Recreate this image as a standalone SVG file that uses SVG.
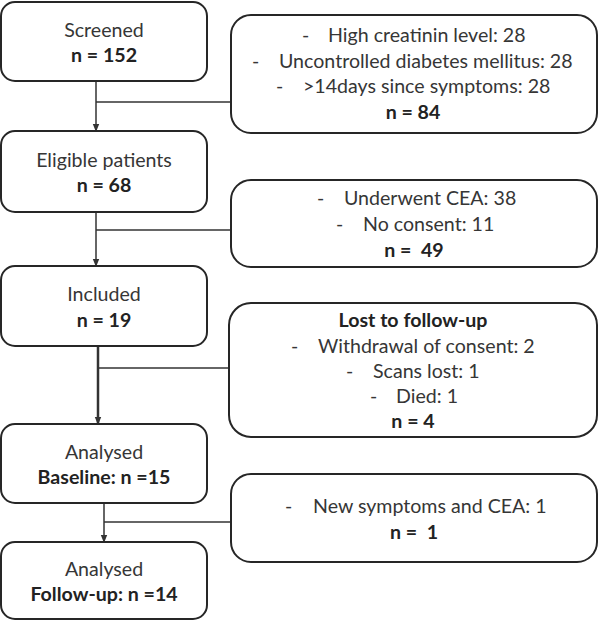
<svg xmlns="http://www.w3.org/2000/svg" width="602" height="621" viewBox="0 0 602 621">
<style>
.box{fill:#fff;stroke:#262626;stroke-width:2}
.t{font-family:Lato,"Open Sans","Liberation Sans",sans-serif;font-size:19.6px;fill:#363636}
.c{text-anchor:middle}
.b{font-weight:bold;fill:#222}
.ln{stroke:#333;stroke-width:1.5;fill:none}
.thick{stroke-width:2.5}
</style>
<defs>
<marker id="ah" markerWidth="8" markerHeight="8" refX="7" refY="4" orient="auto" markerUnits="userSpaceOnUse">
<path d="M0,0.8 L8,4 L0,7.2 z" fill="#333"/>
</marker>
</defs>
<rect width="602" height="621" fill="#fff"/>
<g id="connectors">
<line class="ln" x1="96" y1="81" x2="96" y2="131" marker-end="url(#ah)"/>
<line class="ln" x1="96" y1="102" x2="231" y2="102"/>
<line class="ln" x1="96" y1="212" x2="96" y2="266" marker-end="url(#ah)"/>
<line class="ln" x1="96" y1="230" x2="231" y2="230"/>
<line class="ln thick" x1="98" y1="346" x2="98" y2="424" marker-end="url(#ah)"/>
<line class="ln" x1="98" y1="368" x2="229" y2="368"/>
<line class="ln" x1="104" y1="503" x2="104" y2="542" marker-end="url(#ah)"/>
<line class="ln" x1="104" y1="522" x2="231" y2="522"/>
</g>
<g id="screened">
<rect class="box" x="1" y="2" width="206" height="79" rx="14"/>
<text class="t c" x="104" y="37">Screened</text>
<text class="t c b" x="104" y="62">n = 152</text>
</g>
<g id="excluded1">
<rect class="box" x="231" y="15" width="366" height="118" rx="20"/>
<text class="t" y="42"><tspan x="302">-</tspan><tspan x="328">High creatinin level: 28</tspan></text>
<text class="t" y="68"><tspan x="252">-</tspan><tspan x="279">Uncontrolled diabetes mellitus: 28</tspan></text>
<text class="t" y="93"><tspan x="276">-</tspan><tspan x="303">&gt;14days since symptoms: 28</tspan></text>
<text class="t c b" x="413" y="119">n = 84</text>
</g>
<g id="eligible">
<rect class="box" x="1" y="131" width="206" height="81" rx="14"/>
<text class="t c" x="104" y="167">Eligible patients</text>
<text class="t c b" x="104" y="192">n = 68</text>
</g>
<g id="excluded2">
<rect class="box" x="231" y="180" width="366" height="87" rx="20"/>
<text class="t" y="205"><tspan x="317">-</tspan><tspan x="344">Underwent CEA: 38</tspan></text>
<text class="t" y="231"><tspan x="336">-</tspan><tspan x="363">No consent: 11</tspan></text>
<text class="t c b" x="414" y="257" xml:space="preserve">n =  49</text>
</g>
<g id="included">
<rect class="box" x="1" y="266" width="206" height="80" rx="14"/>
<text class="t c" x="104" y="301">Included</text>
<text class="t c b" x="104" y="327">n = 19</text>
</g>
<g id="lost">
<rect class="box" x="229" y="303" width="368" height="134" rx="22"/>
<text class="t c b" x="413" y="327">Lost to follow-up</text>
<text class="t" y="353"><tspan x="291">-</tspan><tspan x="318">Withdrawal of consent: 2</tspan></text>
<text class="t" y="378"><tspan x="346">-</tspan><tspan x="373">Scans lost: 1</tspan></text>
<text class="t" y="403"><tspan x="370">-</tspan><tspan x="396">Died: 1</tspan></text>
<text class="t c b" x="413" y="428">n = 4</text>
</g>
<g id="baseline">
<rect class="box" x="1" y="424" width="206" height="79" rx="14"/>
<text class="t c" x="104" y="459">Analysed</text>
<text class="t c b" x="104" y="484">Baseline: n =15</text>
</g>
<g id="excluded4">
<rect class="box" x="231" y="474" width="366" height="88" rx="20"/>
<text class="t" y="513"><tspan x="285">-</tspan><tspan x="313">New symptoms and CEA: 1</tspan></text>
<text class="t c b" x="414" y="539" xml:space="preserve">n =  1</text>
</g>
<g id="followup">
<rect class="box" x="1" y="542" width="206" height="77" rx="14"/>
<text class="t c" x="104" y="576">Analysed</text>
<text class="t c b" x="104" y="601">Follow-up: n =14</text>
</g>
</svg>
